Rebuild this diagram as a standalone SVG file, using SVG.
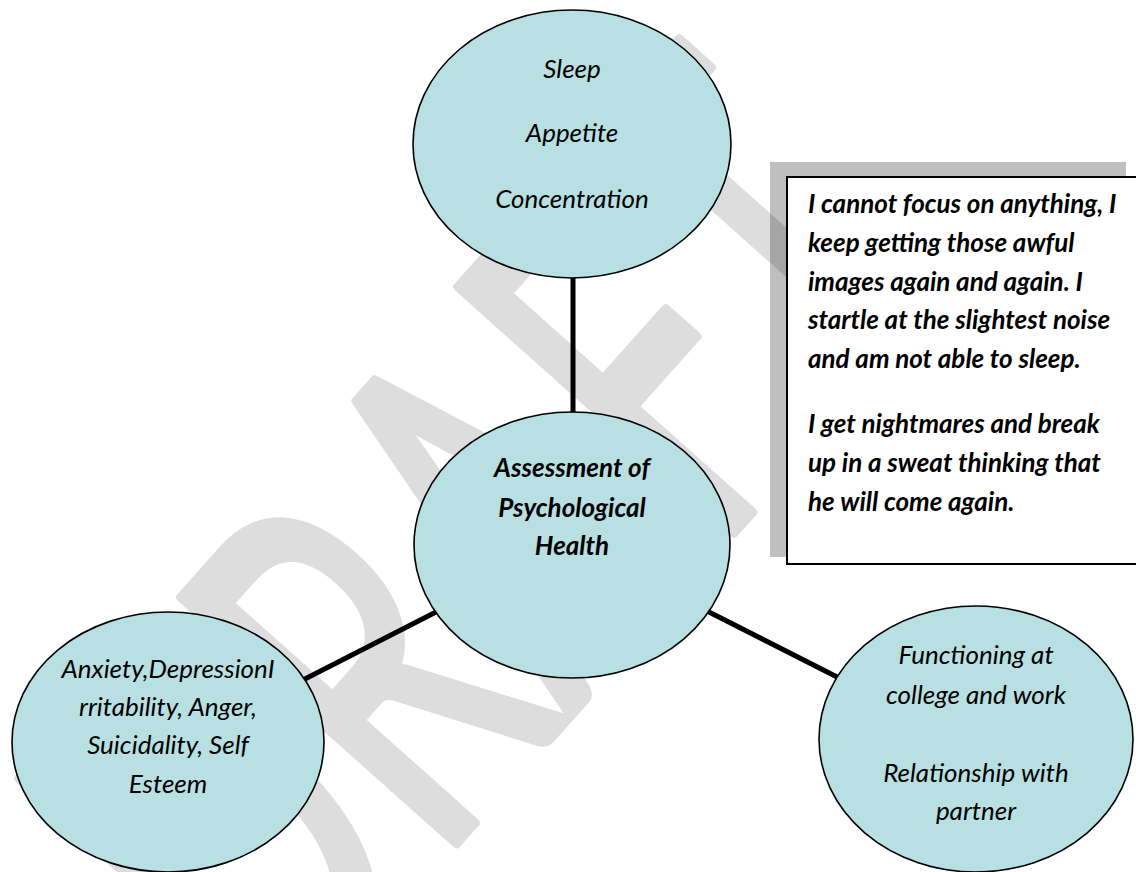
<svg xmlns="http://www.w3.org/2000/svg" width="1136" height="872" viewBox="0 0 1136 872">
  <style>
    .wm { font-family: Lato, "Open Sans", sans-serif; font-size: 515px; fill: #dddddd; stroke: #dddddd; stroke-width: 10; stroke-linejoin: round; }
    .node { fill: #b8e0e3; stroke: #000; stroke-width: 1.6; }
    .conn { stroke: #000; stroke-width: 5; fill: none; }
    .t { font-family: Lato, "Open Sans", sans-serif; font-style: italic; font-size: 26px; fill: #000; text-anchor: middle; }
    .tb { font-family: Lato, "Open Sans", sans-serif; font-style: italic; font-weight: bold; font-size: 26px; fill: #000; text-anchor: middle; }
    .q { font-family: Lato, "Open Sans", sans-serif; font-style: italic; font-weight: bold; font-size: 26px; fill: #000; }
  </style>
  <rect width="1136" height="872" fill="#fff"/>
  <g id="watermark">
    <text class="wm" x="-455" y="0" transform="matrix(0.413,-0.4625,0.746,0.666,462,837)">DRAFT</text>
  </g>
  <g id="connectors">
    <line class="conn" x1="573" y1="276" x2="573" y2="414"/>
    <line class="conn" x1="438" y1="611" x2="301" y2="681"/>
    <line class="conn" x1="707" y1="611" x2="843" y2="680"/>
  </g>
  <g id="callout">
    <rect x="770" y="162" width="356" height="395" fill="#000" fill-opacity="0.25"/>
    <rect x="787" y="177" width="360" height="387" fill="#fff" stroke="#000" stroke-width="2"/>
    <text class="q" x="808" y="213">I cannot focus on anything, I</text>
    <text class="q" x="808" y="252">keep getting those awful</text>
    <text class="q" x="808" y="291">images again and again. I</text>
    <text class="q" x="808" y="329">startle at the slightest noise</text>
    <text class="q" x="808" y="368">and am not able to sleep.</text>
    <text class="q" x="808" y="433">I get nightmares and break</text>
    <text class="q" x="808" y="472">up in a sweat thinking that</text>
    <text class="q" x="808" y="511">he will come again.</text>
  </g>
  <g id="node-top">
    <ellipse class="node" cx="572" cy="144" rx="159" ry="134"/>
    <text class="t" x="572" y="78">Sleep</text>
    <text class="t" x="572" y="142">Appetite</text>
    <text class="t" x="572" y="208">Concentration</text>
  </g>
  <g id="node-center">
    <ellipse class="node" cx="572" cy="545" rx="158" ry="133"/>
    <text class="tb" x="572" y="477">Assessment of</text>
    <text class="tb" x="572" y="517">Psychological</text>
    <text class="tb" x="572" y="555">Health</text>
  </g>
  <g id="node-left">
    <ellipse class="node" cx="168" cy="742" rx="156" ry="130"/>
    <text class="t" x="168" y="678">Anxiety,DepressionI</text>
    <text class="t" x="168" y="716">rritability, Anger,</text>
    <text class="t" x="168" y="754">Suicidality, Self</text>
    <text class="t" x="168" y="793">Esteem</text>
  </g>
  <g id="node-right">
    <ellipse class="node" cx="976" cy="739" rx="157" ry="133"/>
    <text class="t" x="976" y="664">Functioning at</text>
    <text class="t" x="976" y="704">college and work</text>
    <text class="t" x="976" y="782">Relationship with</text>
    <text class="t" x="976" y="820">partner</text>
  </g>
</svg>
